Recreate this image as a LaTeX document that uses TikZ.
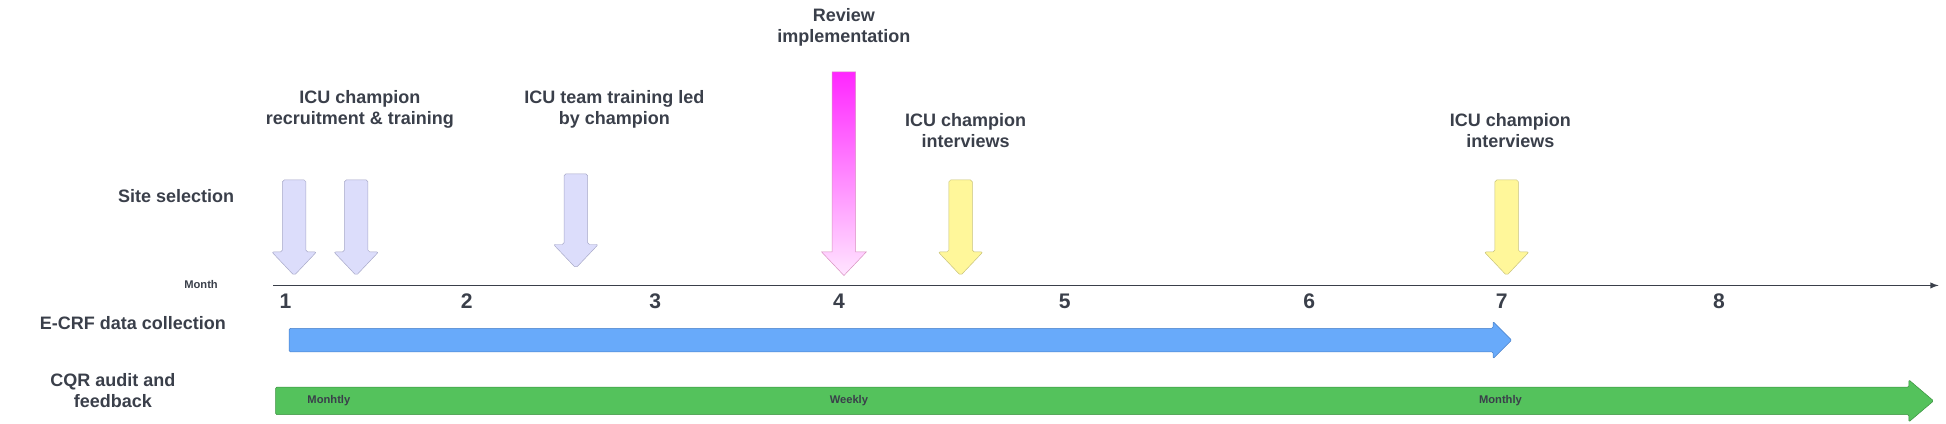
\documentclass[tikz,border=0pt]{standalone}
\usepackage{fontspec}
\setmainfont{Liberation Sans}
\usetikzlibrary{positioning}
\definecolor{txt}{HTML}{3A3F4A}
\definecolor{lavfill}{HTML}{DCDDFB}
\definecolor{lavdraw}{HTML}{A8A9C8}
\definecolor{yelfill}{HTML}{FFF79A}
\definecolor{yeldraw}{HTML}{C8C27A}
\definecolor{pinkdraw}{HTML}{D890C0}
\definecolor{ecfill}{HTML}{68AAFA}
\definecolor{ecdraw}{HTML}{4A80C8}
\definecolor{cqfill}{HTML}{54C25C}
\definecolor{cqdraw}{HTML}{3A903F}
\tikzset{
  x=1pt, y=-1pt,
  all/.style = {align=center, text=txt, font=\bfseries\fontsize{14.5}{17}\selectfont},
  small/.style = {text=txt, font=\bfseries\fontsize{9}{10}\selectfont},
  num/.style = {text=txt, font=\bfseries\fontsize{17}{18}\selectfont},
  lav/.style = {draw=lavdraw, fill=lavfill, thin, rounded corners=1.5pt},
  yel/.style = {draw=yeldraw, fill=yelfill, thin, rounded corners=1.5pt},
  pnk/.style = {draw=pinkdraw, top color=magenta!85, bottom color=magenta!10, thin},
  bar/.style = {thin, rounded corners=1pt}
}
% down block arrow: x, top, tip
\newcommand{\msarrow}[4]{%
  \path[#1] (#2-9.5,#3) -- (#2+9.5,#3) -- (#2+9.5,#4-19) -- (#2+18,#4-19)
    -- (#2,#4) -- (#2-18,#4-19) -- (#2-9.5,#4-19) -- cycle;}
% right block arrow: start, end, centre y, half body, half head, head length
\newcommand{\barrow}[7]{%
  \path[#1] (#2,#4-#5) -- (#3-#7,#4-#5) -- (#3-#7,#4-#6) -- (#3,#4)
    -- (#3-#7,#4+#6) -- (#3-#7,#4+#5) -- (#2,#4+#5) -- cycle;}
\begin{document}
\begin{tikzpicture}
\useasboundingbox (0,0) rectangle (1568,341);
% axis
\coordinate (a0) at (220,230);
\coordinate (a1) at (1562,230);
\draw[txt, line width=1.3pt, -latex] (a0) -- (a1);
\node[small] (month) at (162,229) {Month};
\foreach \m/\x in {1/230,2/376,3/528,4/676,5/858,6/1055,7/1210,8/1385}
  \node[num] (m\m) at (\x,243) {\m};
% milestone arrows
\msarrow{lav}{237}{145}{222}
\msarrow{lav}{287}{145}{222}
\msarrow{lav}{464}{140}{216}
\msarrow{pnk}{680}{58}{222}
\msarrow{yel}{774}{145}{222}
\msarrow{yel}{1214}{145}{222}
% labels
\node[all] (site) at (142,158) {Site selection};
\node[all] (rec) at (290,88) {ICU champion\\recruitment \& training};
\node[all] (team) at (495,88) {ICU team training led\\by champion};
\node[all] (rev) at (680,22) {Review\\implementation};
\node[all] (int1) at (778,105) {ICU champion\\interviews};
\node[all] (int2) at (1217,105) {ICU champion\\interviews};
% data collection
\node[all] (ecrf) at (107,260) {E-CRF data collection};
\barrow{bar, draw=ecdraw, fill=ecfill}{233}{1218}{274}{9.5}{15}{15}
\node[all] (cqr) at (91,315) {CQR audit and\\feedback};
\barrow{bar, draw=cqdraw, fill=cqfill}{222}{1558}{323}{11}{17}{20}
\node[small] (w1) at (265,323) {Monhtly};
\node[small] (w2) at (684,323) {Weekly};
\node[small] (w3) at (1209,323) {Monthly};
\end{tikzpicture}
\end{document}
